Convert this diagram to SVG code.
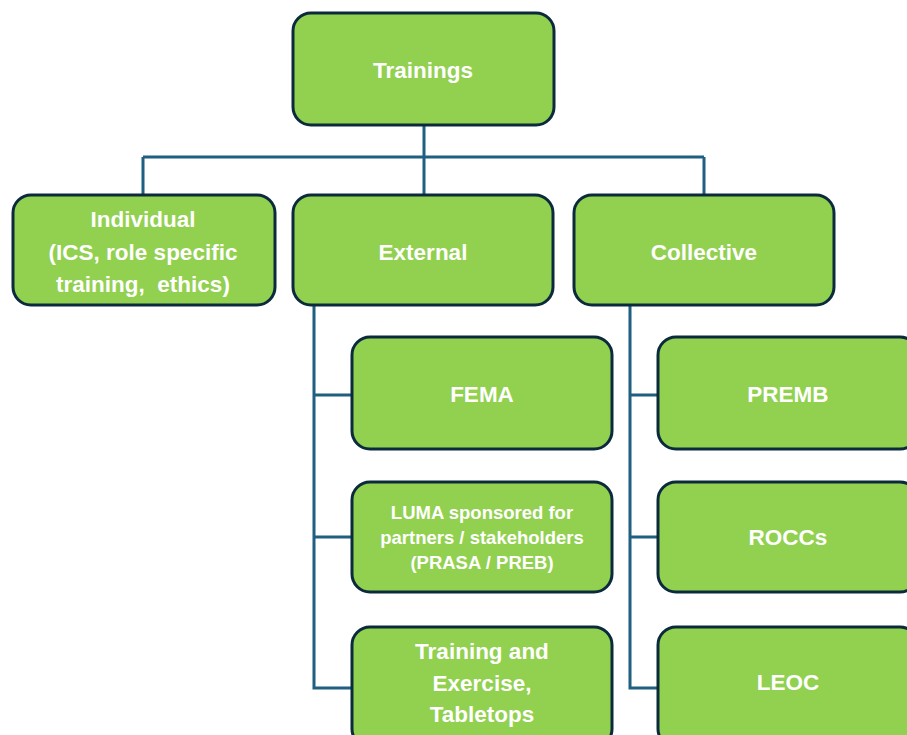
<svg xmlns="http://www.w3.org/2000/svg" width="907" height="735" viewBox="0 0 907 735">
<style>
.box{fill:#92d050;stroke:#0b2a3c;stroke-width:3}
.t{fill:#fff;font-family:"Liberation Sans",Arial,sans-serif;font-weight:bold;font-size:22.5px;text-anchor:middle;dominant-baseline:central}
.s{font-size:18.5px}
.c{fill:none;stroke:#1f5f82;stroke-width:3}
</style>
<rect width="907" height="735" fill="#fff"/>
<g id="connectors">
<path class="c" d="M424 125V157M143 157H704M143 157V195M424 157V195M704 157V195"/>
<path class="c" d="M314 305V688H352M314 395H352M314 537H352"/>
<path class="c" d="M630 305V688H658M630 395H658M630 537H658"/>
</g>
<g id="trainings"><rect class="box" x="293" y="13" width="261" height="112" rx="18"/><text class="t" x="423" y="70">Trainings</text></g>
<g id="individual"><rect class="box" x="13" y="195" width="262" height="110" rx="18"/><text class="t" x="143" y="219">Individual</text><text class="t" x="143" y="252">(ICS, role specific</text><text class="t" x="143" y="284" xml:space="preserve">training,  ethics)</text></g>
<g id="external"><rect class="box" x="293" y="195" width="260" height="110" rx="18"/><text class="t" x="423" y="252">External</text></g>
<g id="collective"><rect class="box" x="574" y="195" width="260" height="110" rx="18"/><text class="t" x="704" y="252">Collective</text></g>
<g id="fema"><rect class="box" x="352" y="337" width="260" height="112" rx="18"/><text class="t" x="482" y="394">FEMA</text></g>
<g id="luma"><rect class="box" x="352" y="482" width="260" height="110" rx="18"/><text class="t s" x="482" y="512">LUMA sponsored for</text><text class="t s" x="482" y="537">partners / stakeholders</text><text class="t s" x="482" y="562">(PRASA / PREB)</text></g>
<g id="training-exercise"><rect class="box" x="352" y="627" width="260" height="120" rx="18"/><text class="t" x="482" y="651">Training and</text><text class="t" x="482" y="683">Exercise,</text><text class="t" x="482" y="714">Tabletops</text></g>
<g id="premb"><rect class="box" x="658" y="337" width="260" height="112" rx="18"/><text class="t" x="788" y="394">PREMB</text></g>
<g id="roccs"><rect class="box" x="658" y="482" width="260" height="110" rx="18"/><text class="t" x="788" y="537">ROCCs</text></g>
<g id="leoc"><rect class="box" x="658" y="627" width="260" height="120" rx="18"/><text class="t" x="788" y="682">LEOC</text></g>
</svg>
